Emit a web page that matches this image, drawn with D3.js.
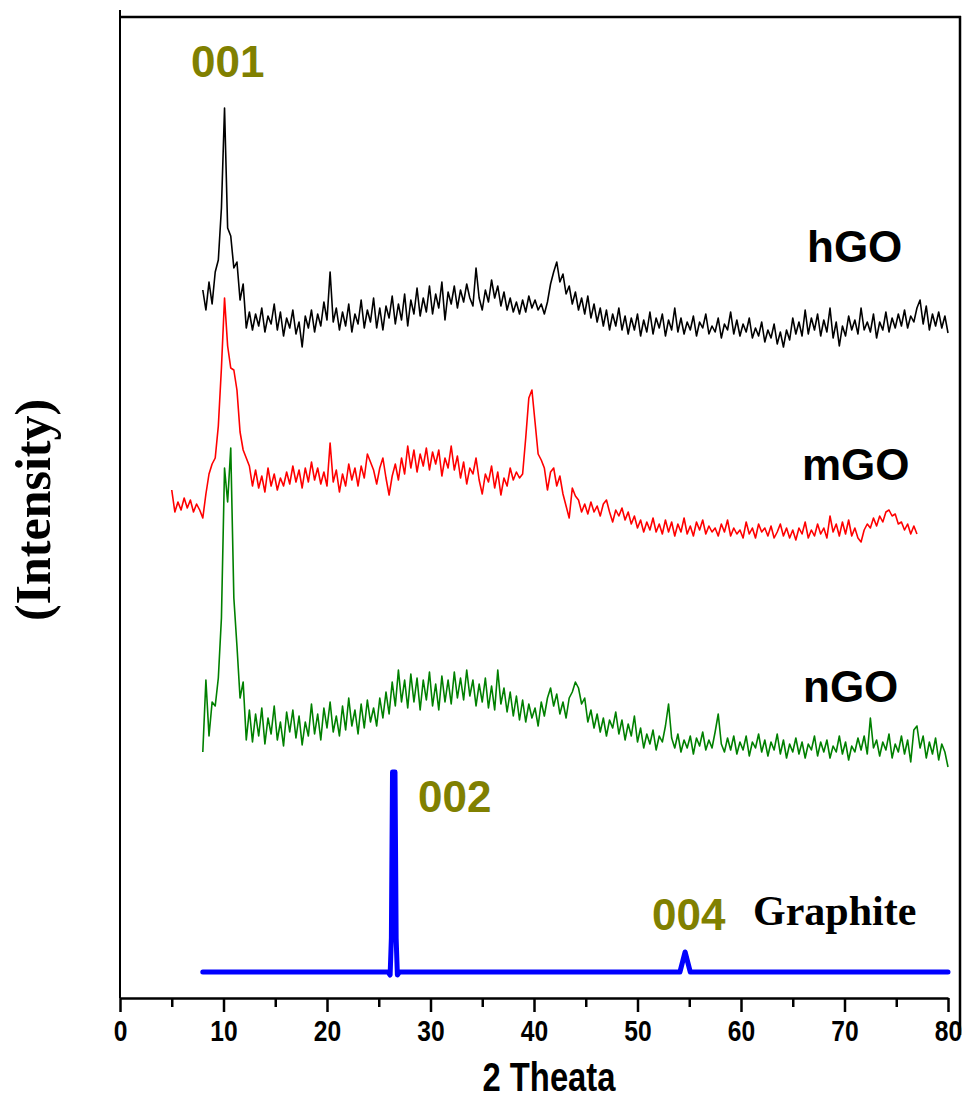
<!DOCTYPE html>
<html>
<head>
<meta charset="utf-8">
<script src="https://cdn.jsdelivr.net/npm/d3@7"></script>
<style>
  body { margin: 0; background: #fff; }
  svg { display: block; }
</style>
</head>
<body>
<div id="chart"></div>
<script>
// 2-theta grids (instrument step 0.3 deg)
const hgoStart = 8.0, mgoStart = 5.0, ngoStart = 8.0, scanStep = 0.3;

// intensities (a.u., curves already offset for stacking)
const hgoValues = [
  708,688,716,694,726,738,790,890,770,762,730,736,698,714,670,686,668,684,672,690,
  666,682,674,694,668,686,662,680,670,688,664,676,651,682,670,688,666,684,672,696,
  678,726,676,690,668,686,672,694,666,684,674,698,670,688,676,700,670,690,668,692,
  680,702,674,694,678,704,672,698,684,710,682,700,686,712,684,704,690,716,678,706,
  694,712,690,708,696,714,700,692,730,700,688,708,696,718,700,712,692,706,688,700,
  686,696,684,698,686,702,690,698,688,694,684,696,714,726,736,716,724,704,712,694,
  706,688,700,684,702,680,694,676,690,672,688,668,684,672,690,668,682,664,680,668,
  684,662,678,666,686,664,680,670,684,662,678,668,690,666,680,664,676,668,682,662,
  676,670,684,664,672,666,680,660,674,668,686,664,678,662,674,666,680,660,670,662,
  676,656,668,660,674,654,666,651,668,658,680,664,676,662,688,664,680,668,684,662,
  678,666,690,660,676,652,672,662,682,668,678,664,690,668,676,666,684,660,676,668,
  686,666,680,670,684,672,688,670,682,676,690,698,674,692,668,684,672,686,670,682,
  665
];

const mgoValues = [
  508,486,496,488,500,490,498,486,494,488,480,504,524,534,540,572,630,700,652,630,
  628,608,566,548,540,532,512,528,510,522,506,530,512,524,508,520,512,526,514,532,
  516,528,510,530,516,536,518,530,514,526,512,555,516,528,506,524,512,534,518,530,
  512,532,520,544,536,528,514,530,540,520,503,522,534,518,540,524,552,530,548,526,
  544,532,550,528,546,534,548,522,540,530,552,528,542,520,536,514,530,524,540,518,
  504,524,516,532,510,526,503,520,512,530,518,526,520,524,560,600,608,576,544,538,
  530,508,526,530,512,522,504,492,480,510,502,498,486,494,484,496,486,492,482,494,
  498,486,476,488,482,490,478,486,474,482,470,478,466,476,468,480,466,474,464,478,
  466,476,462,474,466,480,464,472,462,476,468,478,464,472,466,470,462,474,466,478,
  462,470,464,468,460,476,464,470,460,474,466,470,462,472,460,466,474,462,470,460,
  468,458,470,464,476,460,468,462,474,464,470,460,482,466,474,462,476,464,478,462,
  470,460,456,468,474,470,480,472,482,476,486,488,482,484,474,476,468,474,464,472,
  464
];

const ngoValues = [
  246,318,262,296,292,320,380,530,496,550,400,352,300,316,258,288,256,284,262,290,
  254,280,264,292,258,276,252,286,266,288,260,282,253,276,262,294,264,284,258,290,
  270,296,266,282,262,292,268,300,272,288,264,294,270,298,276,290,272,300,280,306,
  284,316,292,328,296,318,290,324,296,320,288,318,298,326,292,314,288,322,296,318,
  294,326,300,320,298,328,302,318,292,314,296,320,290,312,288,328,294,310,286,306,
  282,302,278,298,276,294,280,290,272,296,282,300,310,292,304,284,296,280,300,306,
  316,310,294,300,276,288,270,284,266,280,262,278,270,286,264,278,258,274,262,282,
  256,270,250,264,254,268,248,262,256,272,294,260,250,264,246,258,250,262,244,260,
  252,266,248,258,250,266,284,254,246,260,248,262,244,256,248,262,242,256,250,264,
  246,258,242,256,248,264,244,258,240,254,246,260,244,256,240,254,248,262,242,256,
  246,258,240,252,246,262,244,256,238,252,246,260,248,262,244,280,250,258,242,256,
  248,264,240,254,246,262,244,258,236,268,272,250,262,240,256,244,260,238,254,246,
  231
];

// graphite reference pattern [2theta, intensity]
const graphitePoints = [
  [8.0, 26], [25.9, 26], [26.1, 23], [26.22, 60], [26.33, 226], [26.57, 226],
  [26.68, 60], [26.8, 23], [27.0, 26], [54.1, 26], [54.35, 36], [54.6, 46], [54.85, 36],
  [55.1, 26], [80.0, 26]
];

const seriesNames = ['hGO', 'mGO', 'nGO'];
const seriesColors = ['#000000', '#ff0000', '#008000'];
const seriesLabelPos = [[807, 262], [802, 480], [803, 702]];
const peakLabels = ['001', '002', '004'];
const peakLabelPos = [[191, 77], [418, 812], [652, 930]];
const xTicks = [0, 10, 20, 30, 40, 50, 60, 70, 80];
const xMinorTicks = [5, 15, 25, 35, 45, 55, 65, 75];

(() => {
  const W = 970, H = 1100;
  const plotLeft = 120, plotRight = 948, plotTop = 15, plotBottom = 998;
  const sans = '"Liberation Sans", Arial, sans-serif';
  const serif = '"Liberation Serif", "Times New Roman", serif';
  const narrow = 0.82; // squeeze to look like a narrow bold face

  const svg = d3.select('#chart').append('svg')
    .attr('width', W)
    .attr('height', H);

  const x = d3.scaleLinear().domain([0, 80]).range([plotLeft, plotRight]);
  const y = d3.scaleLinear().domain([0, 983]).range([plotBottom, plotTop]);

  const toPoints = (start, vals) => vals.map((v, i) => [start + i * scanStep, v]);
  const allSeries = [
    toPoints(hgoStart, hgoValues),
    toPoints(mgoStart, mgoValues),
    toPoints(ngoStart, ngoValues)
  ];

  const line = d3.line().x(d => x(d[0])).y(d => y(d[1]));

  // frame
  svg.append('line').attr('x1', plotLeft).attr('x2', plotLeft).attr('y1', 10).attr('y2', plotBottom)
    .attr('stroke', '#000').attr('stroke-width', 2);
  svg.append('line').attr('x1', plotLeft).attr('x2', 961).attr('y1', 17).attr('y2', 17)
    .attr('stroke', '#000').attr('stroke-width', 2.5);
  svg.append('line').attr('x1', 960).attr('x2', 960).attr('y1', 16).attr('y2', 1035)
    .attr('stroke', '#000').attr('stroke-width', 2.5);

  // curves
  svg.selectAll('.trace')
    .data(allSeries)
    .enter()
    .append('path')
    .attr('class', 'trace')
    .attr('d', line)
    .attr('fill', 'none')
    .attr('stroke', (d, i) => seriesColors[i])
    .attr('stroke-width', 1.6)
    .attr('stroke-linejoin', 'round');

  svg.append('path')
    .datum(graphitePoints)
    .attr('d', line)
    .attr('fill', 'none')
    .attr('stroke', '#0000ff')
    .attr('stroke-width', 5)
    .attr('stroke-linejoin', 'round')
    .attr('stroke-linecap', 'round');

  // x axis
  const axis = svg.append('g')
    .attr('transform', `translate(0,${plotBottom})`)
    .call(d3.axisBottom(x).tickValues(xTicks).tickSize(14).tickPadding(8).tickSizeOuter(0));
  axis.select('.domain').attr('stroke-width', 2.5);
  axis.selectAll('.tick line').attr('stroke-width', 2.5);
  axis.selectAll('.tick text')
    .attr('font-family', sans)
    .attr('font-weight', 'bold')
    .attr('font-size', 30)
    .attr('fill', '#000')
    .attr('transform', `scale(${narrow},1)`);

  svg.append('g')
    .attr('transform', `translate(0,${plotBottom})`)
    .call(d3.axisBottom(x).tickValues(xMinorTicks).tickSize(9).tickFormat(''))
    .call(g => g.select('.domain').remove())
    .selectAll('.tick line').attr('stroke-width', 2.5);

  // axis titles
  svg.append('text')
    .attr('transform', `translate(549,1091) scale(${narrow},1)`)
    .attr('text-anchor', 'middle')
    .attr('font-family', sans)
    .attr('font-weight', 'bold')
    .attr('font-size', 40)
    .text('2 Theata');

  svg.append('text')
    .attr('transform', 'translate(50,510) rotate(-90)')
    .attr('text-anchor', 'middle')
    .attr('font-family', serif)
    .attr('font-weight', 'bold')
    .attr('font-size', 50)
    .text('(Intensity)');

  // series labels
  svg.selectAll('.slabel')
    .data(seriesNames)
    .enter()
    .append('text')
    .attr('class', 'slabel')
    .attr('x', (d, i) => seriesLabelPos[i][0])
    .attr('y', (d, i) => seriesLabelPos[i][1])
    .attr('font-family', sans)
    .attr('font-weight', 'bold')
    .attr('font-size', 44)
    .text(d => d);

  svg.append('text')
    .attr('x', 753).attr('y', 925)
    .attr('font-family', serif)
    .attr('font-weight', 'bold')
    .attr('font-size', 42)
    .text('Graphite');

  // peak indices
  svg.selectAll('.plabel')
    .data(peakLabels)
    .enter()
    .append('text')
    .attr('class', 'plabel')
    .attr('x', (d, i) => peakLabelPos[i][0])
    .attr('y', (d, i) => peakLabelPos[i][1])
    .attr('font-family', sans)
    .attr('font-weight', 'bold')
    .attr('font-size', 44)
    .attr('fill', '#808000')
    .text(d => d);
})();
</script>
</body>
</html>
